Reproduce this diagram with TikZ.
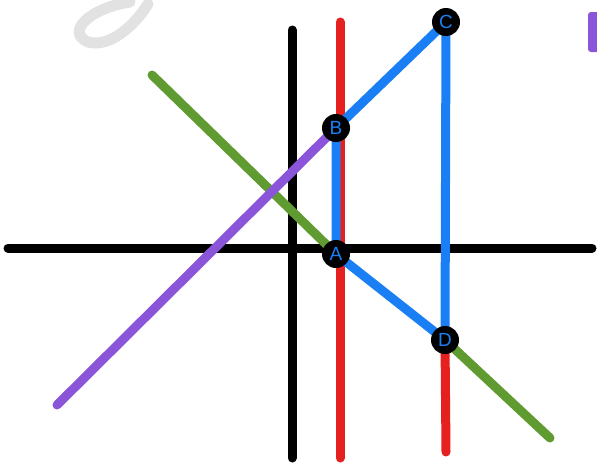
\documentclass[tikz,border=0pt]{standalone}
\usepackage{fontspec}
\setmainfont{Liberation Sans}
\usetikzlibrary{positioning,backgrounds}
\definecolor{pen}{HTML}{1A7FF5}
\definecolor{redline}{HTML}{E5201E}
\definecolor{greenline}{HTML}{5F9B31}
\definecolor{purpleline}{HTML}{8B55DA}
\definecolor{faint}{HTML}{E2E2E2}
\tikzset{
  stroke/.style={line width=9pt,line cap=round},
  pt/.style={circle,fill=black,inner sep=0pt,minimum size=28pt,text=pen,font=\fontsize{19}{19}\selectfont},
}

\begin{document}
\begin{tikzpicture}[x=1pt,y=-1pt]
\useasboundingbox (0,0) rectangle (597,466);
% points
\node[pt] (A) at (336,254) {A};
\node[pt] (B) at (336,128) {B};
\node[pt] (C) at (446,22) {C};
\node[pt] (D) at (445,340) {D};
\coordinate (xl) at (8,248);
\coordinate (xr) at (592,248);
\coordinate (yt) at (292,30);
\coordinate (yb) at (292,458);
\coordinate (rt) at (340,22);
\coordinate (rb) at (340,458);
\coordinate (rd) at (446,452);
\coordinate (gt) at (152,75);
\coordinate (gb) at (550,438);
\coordinate (pb) at (57,405);
\begin{scope}[on background layer]
% faint mark top left and tab on the right
\draw[faint,line width=11pt,line cap=round] (130,2) .. controls (90,8) and (65,32) .. (88,42) .. controls (110,48) and (135,25) .. (148,4);
\fill[purpleline,rounded corners=3pt] (588,12) rectangle (600,52);
% axes
\draw[stroke] (xl) -- (xr);
\draw[stroke] (yt) -- (yb);
% lines
\draw[stroke,redline] (rt) -- (rb);
\draw[stroke,redline] (D.center) -- (rd);
\draw[stroke,greenline] (gt) -- (A.center);
\draw[stroke,greenline] (D.center) -- (gb);
\draw[stroke,purpleline] (pb) -- (B.center);
\draw[stroke,pen] (B.center) -- (C.center) -- (D.center) -- (A.center) -- (B.center);
\end{scope}
\end{tikzpicture}
\end{document}
